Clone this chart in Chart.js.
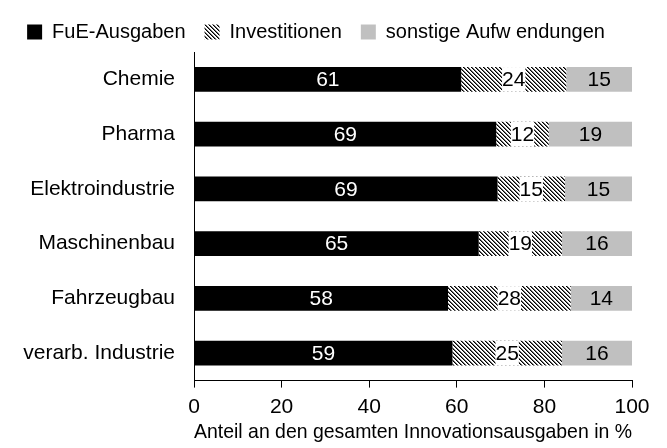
<!DOCTYPE html>
<html lang="de">
<head>
  <meta charset="UTF-8" />
  <title>Innovationsausgaben</title>
  <script src="https://cdn.jsdelivr.net/npm/chart.js"></script>
  <style>
    html, body { margin: 0; padding: 0; background: #fff; }
    #wrap { width: 667px; height: 448px; }
  </style>
</head>
<body>
  <div id="wrap"><canvas id="grafico" width="667" height="448"></canvas></div>

  <script>
    const branchen = ['Chemie', 'Pharma', 'Elektroindustrie', 'Maschinenbau', 'Fahrzeugbau', 'verarb. Industrie'];
    // Anteile in %, beschriftet wird gerundet
    const fue = [61, 69, 69.3, 65, 58, 59];
    const investitionen = [24, 12, 15.4, 19, 28, 25];
    const sonstige = [15, 19, 15.3, 16, 14, 16];
    const xTicks = [0, 20, 40, 60, 80, 100];

    Chart.defaults.font.family = '"Liberation Sans", Arial, sans-serif';
    Chart.defaults.font.size = 21;
    Chart.defaults.color = '#000';

    // Schraffur fuer Investitionen
    function schraffur() {
      const c = document.createElement('canvas');
      c.width = 4; c.height = 4;
      const g = c.getContext('2d');
      const img = g.createImageData(4, 4);
      for (let y = 0; y < 4; y++) {
        for (let x = 0; x < 4; x++) {
          const d = ((x - y) % 4 + 4) % 4;
          const v = d === 0 ? 0 : (d === 1 ? 110 : 255);
          const i = (y * 4 + x) * 4;
          img.data[i] = v; img.data[i + 1] = v; img.data[i + 2] = v; img.data[i + 3] = 255;
        }
      }
      g.putImageData(img, 0, 0);
      return g.createPattern(c, 'repeat');
    }
    const hatch = schraffur();

    const werteLabels = {
      id: 'werteLabels',
      afterDatasetsDraw(chart) {
        const ctx = chart.ctx;
        ctx.save();
        ctx.font = '21px "Liberation Sans", Arial, sans-serif';
        ctx.textAlign = 'center';
        ctx.textBaseline = 'middle';
        chart.data.datasets.forEach((ds, i) => {
          const meta = chart.getDatasetMeta(i);
          meta.data.forEach((bar, j) => {
            const cx = (bar.x + bar.base) / 2;
            const text = String(Math.round(ds.data[j]));
            if (i === 1) {
              const w = ctx.measureText(text).width;
              ctx.fillStyle = '#fff';
              ctx.fillRect(cx - w / 2, bar.y - bar.height / 2, w, bar.height);
            }
            ctx.fillStyle = i === 0 ? '#fff' : '#000';
            ctx.fillText(text, cx, bar.y + 1);
          });
        });
        ctx.restore();
      }
    };

    new Chart(document.getElementById('grafico').getContext('2d'), {
      type: 'bar',
      data: {
        labels: branchen,
        datasets: [
          { label: 'FuE-Ausgaben', data: fue, backgroundColor: '#000' },
          { label: 'Investitionen', data: investitionen, backgroundColor: hatch },
          { label: 'sonstige Aufw endungen', data: sonstige, backgroundColor: '#c0c0c0' }
        ]
      },
      options: {
        indexAxis: 'y',
        responsive: false,
        animation: false,
        datasets: { bar: { barPercentage: 0.92, categoryPercentage: 0.49 } },
        layout: { padding: { left: 0, right: 35, top: 3, bottom: 3 } },
        plugins: {
          legend: {
            position: 'top',
            labels: { boxWidth: 15, boxHeight: 15, padding: 19, color: '#000', font: { size: 20 } }
          },
          tooltip: { enabled: false }
        },
        scales: {
          x: {
            stacked: true,
            min: 0,
            max: 100,
            afterBuildTicks: s => { s.ticks = xTicks.map(v => ({ value: v })); },
            grid: { drawOnChartArea: false, drawTicks: true, tickLength: 7, color: '#000' },
            border: { color: '#000', width: 1 },
            ticks: { padding: 7 },
            title: { display: true, text: 'Anteil an den gesamten Innovationsausgaben in %', padding: { top: -7, bottom: 0 } }
          },
          y: {
            stacked: true,
            grid: { display: false },
            border: { color: '#000', width: 1 },
            ticks: { padding: 11 },
            afterFit: s => { s.width = 194; }
          }
        }
      },
      plugins: [werteLabels]
    });
  </script>
</body>
</html>
